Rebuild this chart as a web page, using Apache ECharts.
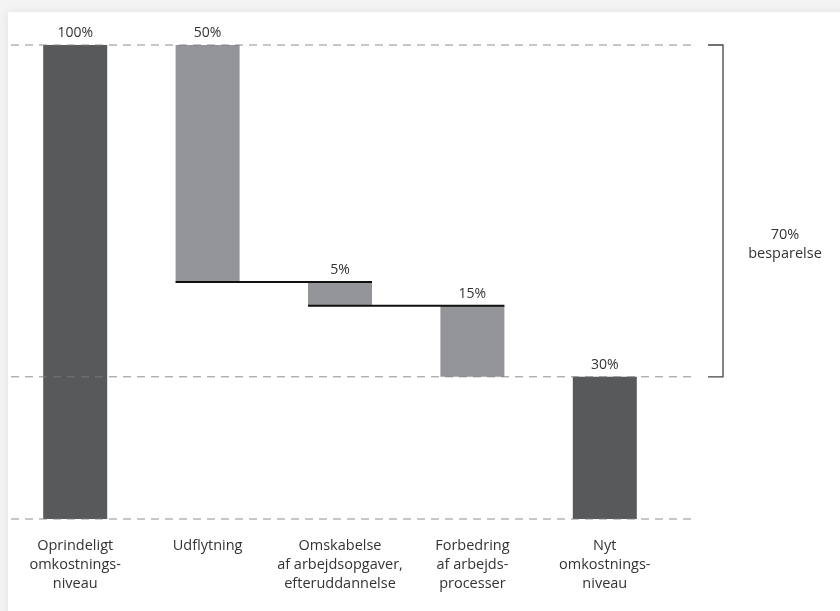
<!DOCTYPE html>
<html>
<head>
<meta charset="utf-8">
<script src="https://cdn.jsdelivr.net/npm/echarts@6/dist/echarts.min.js"></script>
<style>
  html, body { margin: 0; padding: 0; background: #f4f4f4; }
  #main { width: 840px; height: 611px; }
</style>
</head>
<body>
<div id="main"></div>
<script>
// data
const categories = [
  "Oprindeligt\nomkostnings-\nniveau",
  "Udflytning",
  "Omskabelse\naf arbejdsopgaver,\nefteruddannelse",
  "Forbedring\naf arbejds-\nprocesser",
  "Nyt\nomkostnings-\nniveau",
];
const baseValues = [0, 50, 45, 30, 0];
const stepValues = [100, 50, 5, 15, 30];
const totalFlags = [true, false, false, false, true];
const savingText = "70%\nbesparelse";

const darkGrey = "#58595b";
const lightGrey = "#939598";
const font = "Open Sans";

let myChart = echarts.init(document.getElementById("main"), null, { renderer: "canvas" });

let option = {
  backgroundColor: "#f4f4f4",
  animation: false,
  textStyle: { fontFamily: font },
  grid: { left: 9, right: 169, top: 45, bottom: 92 },
  xAxis: {
    type: "category",
    data: categories,
    axisLine: { show: false },
    axisTick: { show: false },
    axisLabel: {
      interval: 0,
      margin: 17,
      fontSize: 14.5,
      lineHeight: 19,
      color: "#333",
      fontFamily: font,
    },
  },
  yAxis: {
    type: "value",
    min: 0,
    max: 100,
    show: false,
    splitLine: { show: false },
  },
  series: [
    {
      name: "base",
      type: "bar",
      stack: "w",
      barWidth: 64,
      itemStyle: { color: "transparent" },
      data: baseValues,
      silent: true,
    },
    {
      name: "step",
      type: "bar",
      stack: "w",
      barWidth: 64,
      z: 3,
      data: stepValues.map((v, i) => ({
        value: v,
        itemStyle: { color: totalFlags[i] ? darkGrey : lightGrey },
      })),
      label: {
        show: true,
        position: "top",
        distance: 5,
        formatter: "{c}%",
        fontSize: 14,
        color: "#333",
        fontFamily: font,
      },
    },
  ],
};

myChart.setOption(option);

// reference lines, connectors and bracket, placed through the axes
let px = (i, v) => myChart.convertToPixel({ seriesIndex: 1 }, [i, v]);
let rect = myChart.getModel().getComponent("grid").coordinateSystem.getRect();
let halfBar = 32;
let graphics = [
  {
    type: "rect",
    shape: { x: 8, y: 12, width: 840, height: 611 },
    style: { fill: "#fff", shadowBlur: 10, shadowColor: "rgba(0,0,0,0.08)" },
    z: -10,
    silent: true,
  },
];

// dashed lines at 100, 30, 0 (drawn over the bars)
[100, 30, 0].forEach((v) => {
  let y = px(0, v)[1];
  graphics.push({
    type: "line",
    shape: { x1: rect.x + 2, y1: y, x2: rect.x + rect.width + 26, y2: y },
    style: { stroke: "#7a7a7a", lineWidth: 1, lineDash: [8, 6], opacity: 0.85 },
    z: 8,
  });
});

// step connectors
for (let i = 1; i < 3; i++) {
  let y = px(i, baseValues[i])[1];
  let xa = px(i, 0)[0] - halfBar;
  let xb = px(i + 1, 0)[0] + halfBar;
  graphics.push({
    type: "line",
    shape: { x1: xa, y1: y, x2: xb, y2: y },
    style: { stroke: "#111", lineWidth: 2 },
    z: 10,
  });
}

// bracket for saving
let yTop = px(0, stepValues[0])[1];
let yBot = px(4, stepValues[4])[1];
let bx = rect.x + rect.width + 52;
graphics.push({
  type: "polyline",
  shape: { points: [[bx - 15, yTop], [bx, yTop], [bx, yBot], [bx - 15, yBot]] },
  style: { stroke: "#444", lineWidth: 1.3, fill: null },
  z: 10,
});
graphics.push({
  type: "text",
  x: bx + 62,
  y: (yTop + yBot) / 2 + 33,
  style: {
    text: savingText,
    fontSize: 14.5,
    lineHeight: 19,
    fill: "#333",
    fontFamily: font,
    align: "center",
    verticalAlign: "middle",
  },
  z: 10,
});

myChart.setOption({ graphic: graphics });
</script>
</body>
</html>
